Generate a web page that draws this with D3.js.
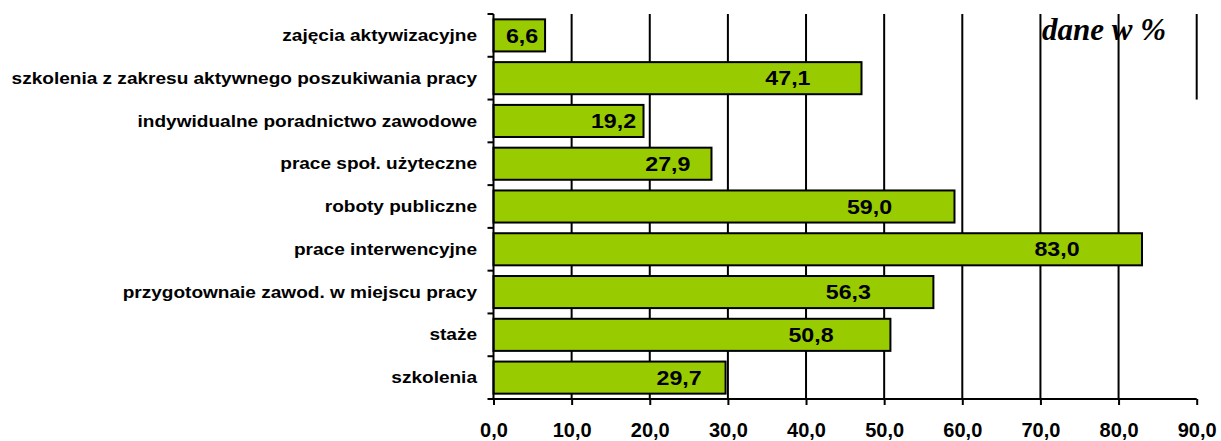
<!DOCTYPE html>
<html>
<head>
<meta charset="utf-8">
<script src="https://cdn.jsdelivr.net/npm/d3@7"></script>
<style>
  html, body { margin: 0; padding: 0; background: #fff; }
  svg { display: block; }
</style>
</head>
<body>
<svg id="chart" width="1221" height="441"></svg>
<script>
const categories = [
  "zajęcia aktywizacyjne",
  "szkolenia z zakresu aktywnego poszukiwania pracy",
  "indywidualne poradnictwo zawodowe",
  "prace społ. użyteczne",
  "roboty publiczne",
  "prace interwencyjne",
  "przygotownaie zawod. w miejscu pracy",
  "staże",
  "szkolenia"
];
const values = [6.6, 47.1, 19.2, 27.9, 59.0, 83.0, 56.3, 50.8, 29.7];
const xTicks = [0, 10, 20, 30, 40, 50, 60, 70, 80, 90];
const unitLabel = "dane w %";

(function () {
const svg = d3.select("#chart");
const pLeft = 493.5, pRight = 1196.7, pTop = 14, pBottom = 399;

const x = d3.scaleLinear().domain([0, 90]).range([pLeft, pRight]);
const y = d3.scaleBand().domain(categories).range([pTop, pBottom]).paddingInner(0.25).paddingOuter(0.125);
const yb = d3.scaleBand().domain(categories).range([pTop, pBottom]);
const fmt = v => d3.format(".1f")(v).replace(".", ",");

// gridlines
svg.append("g").selectAll("line")
  .data(xTicks.filter(t => t > 0 && t < 90))
  .join("line")
  .attr("x1", d => x(d)).attr("x2", d => x(d))
  .attr("y1", pTop).attr("y2", pBottom)
  .attr("stroke", "#000").attr("stroke-width", 2);
svg.append("line")
  .attr("x1", x(90)).attr("x2", x(90))
  .attr("y1", pTop).attr("y2", yb(categories[2]))
  .attr("stroke", "#000").attr("stroke-width", 2);

// bars
svg.append("g").selectAll("rect")
  .data(values)
  .join("rect")
  .attr("x", x(0))
  .attr("y", (d, i) => y(categories[i]))
  .attr("width", d => x(d) - x(0))
  .attr("height", y.bandwidth())
  .attr("fill", "#99CC00")
  .attr("stroke", "#000")
  .attr("stroke-width", 2);

// x axis
const xAxis = d3.axisBottom(x).tickValues(xTicks).tickSize(6).tickFormat(fmt);
const gx = svg.append("g").attr("transform", `translate(0,${pBottom})`).call(xAxis);
gx.select(".domain").attr("stroke", "#000").attr("stroke-width", 2).attr("d", `M${pLeft},0H${pRight}`);
gx.selectAll(".tick line").attr("stroke", "#000").attr("stroke-width", 2);
gx.selectAll(".tick text")
  .attr("y", 37.5).attr("dy", 0)
  .attr("fill", "#000")
  .style("font-family", "'Liberation Sans', Arial, sans-serif")
  .style("font-weight", "bold")
  .style("font-size", "20px");

// y axis line and ticks at band boundaries
svg.append("line")
  .attr("x1", pLeft).attr("x2", pLeft).attr("y1", pTop).attr("y2", pBottom)
  .attr("stroke", "#000").attr("stroke-width", 2);
const bounds = categories.map(c => yb(c)).concat([pBottom]);
svg.append("g").selectAll("line")
  .data(bounds)
  .join("line")
  .attr("x1", pLeft - 6).attr("x2", pLeft)
  .attr("y1", d => d).attr("y2", d => d)
  .attr("stroke", "#000").attr("stroke-width", 2);

// category labels
svg.append("g").selectAll("text")
  .data(categories)
  .join("text")
  .attr("transform", d => `translate(477,${yb(d) + yb.bandwidth() / 2}) scale(1.19,1)`)
  .attr("dy", "0.35em")
  .attr("text-anchor", "end")
  .style("font-family", "'Liberation Sans', Arial, sans-serif")
  .style("font-weight", "bold")
  .style("font-size", "16px")
  .text(d => d);

// value labels
svg.append("g").selectAll("text")
  .data(values)
  .join("text")
  .attr("transform", (d, i) => {
    const w = x(d) - x(0);
    const cx = Math.min(x(0) + 0.8 * w, x(d) - 23, ) ;
    const c2 = Math.max(cx, x(d) - 85);
    return `translate(${c2},${y(categories[i]) + y.bandwidth() / 2}) scale(1.16,1)`;
  })
  .attr("dy", "0.36em")
  .attr("text-anchor", "middle")
  .style("font-family", "'Liberation Sans', Arial, sans-serif")
  .style("font-weight", "bold")
  .style("font-size", "20px")
  .text(d => fmt(d));

// unit label
svg.append("text")
  .attr("x", 1042).attr("y", 40)
  .style("font-family", "'Liberation Serif', 'Times New Roman', serif")
  .style("font-weight", "bold")
  .style("font-style", "italic")
  .style("font-size", "31px")
  .text(unitLabel);
})();
</script>
</body>
</html>
